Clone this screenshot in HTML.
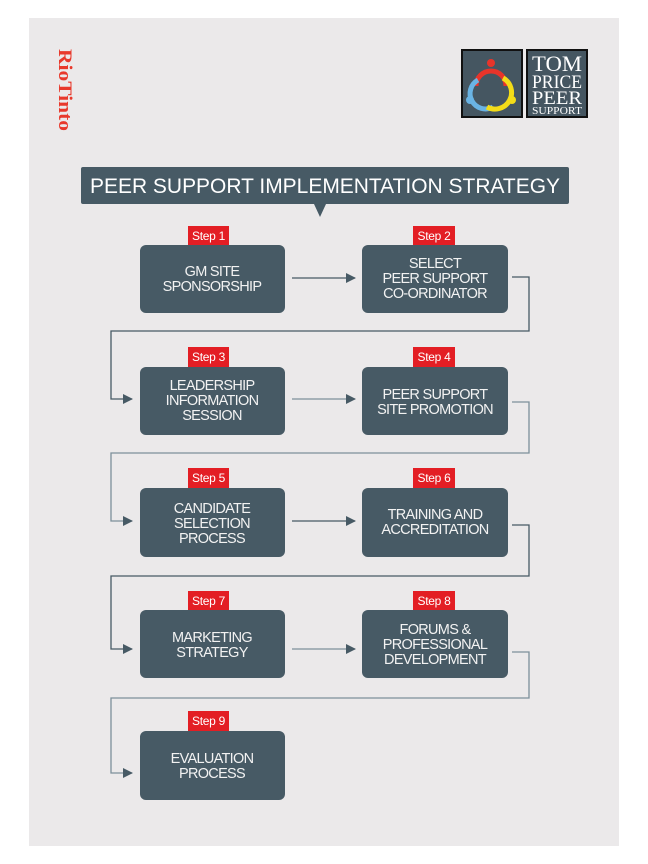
<!DOCTYPE html>
<html><head><meta charset="utf-8"><style>
html,body{margin:0;padding:0;background:#fff;}
svg{display:block;}
</style></head><body>
<svg width="648" height="864" viewBox="0 0 648 864" xmlns="http://www.w3.org/2000/svg">
<defs>
<marker id="ah" markerWidth="12" markerHeight="12" refX="9" refY="5" orient="auto" markerUnits="userSpaceOnUse">
<path d="M0,0 L10,5 L0,10 z" fill="#475a65"/>
</marker>
</defs>
<rect x="29" y="18" width="590" height="828" fill="#ebe9ea"/>
<text transform="translate(59,49) rotate(90)" font-family="Liberation Serif, serif" font-weight="bold" font-size="19" fill="#e8392c" textLength="82" lengthAdjust="spacingAndGlyphs">RioTinto</text>
<!-- logo -->
<rect x="462" y="50" width="60" height="67" fill="#455661" stroke="#111" stroke-width="2"/>
<circle cx="491" cy="63" r="4" fill="#e8342a"/>
<path d="M476,86 A15,15 0 0 1 506,86" fill="none" stroke="#e8342a" stroke-width="5"/>
<path d="M478,80 A15,15 0 0 0 493,107" fill="none" stroke="#6ab4e4" stroke-width="5"/>
<path d="M503,78 A15,15 0 0 1 487,107" fill="none" stroke="#f3dc18" stroke-width="5"/>
<circle cx="470" cy="100" r="4" fill="#6ab4e4"/>
<circle cx="512" cy="100" r="4" fill="#f3dc18"/>
<rect x="527" y="50" width="60" height="67" fill="#455661" stroke="#111" stroke-width="2"/>
<g font-family="Liberation Serif, serif" fill="#fff" text-anchor="middle">
<text x="557" y="71" font-size="22" textLength="50" lengthAdjust="spacingAndGlyphs">TOM</text>
<text x="557" y="88" font-size="19" textLength="50" lengthAdjust="spacingAndGlyphs">PRICE</text>
<text x="557" y="104" font-size="19" textLength="50" lengthAdjust="spacingAndGlyphs">PEER</text>
<text x="557" y="114" font-size="10" textLength="50" lengthAdjust="spacingAndGlyphs">SUPPORT</text>
</g>
<!-- title -->
<rect x="81" y="167" width="488" height="37" rx="2" fill="#475a65"/>
<path d="M314,204 L326,204 L320,217 z" fill="#475a65"/>
<text x="325" y="193" font-family="Liberation Sans, sans-serif" font-size="21" fill="#fff" text-anchor="middle" textLength="470" lengthAdjust="spacingAndGlyphs">PEER SUPPORT IMPLEMENTATION STRATEGY</text>
<!-- connectors -->
<g stroke="#475a65" stroke-width="1.3" fill="none">
<line x1="292" y1="278" x2="355" y2="278" marker-end="url(#ah)"/>
<line x1="292" y1="399" x2="355" y2="399" marker-end="url(#ah)" stroke="#7c909b"/>
<line x1="292" y1="521" x2="355" y2="521" marker-end="url(#ah)"/>
<line x1="292" y1="649" x2="355" y2="649" marker-end="url(#ah)" stroke="#7c909b"/>
<polyline points="512,277 529,277 529,331 111,331 111,399 132,399" marker-end="url(#ah)"/>
<polyline points="512,402 529,402 529,453 111,453 111,521 132,521" marker-end="url(#ah)" stroke="#7c909b"/>
<polyline points="512,525 529,525 529,576 111,576 111,649 132,649" marker-end="url(#ah)"/>
<polyline points="512,652 529,652 529,698 111,698 111,773 132,773" marker-end="url(#ah)" stroke="#7c909b"/>
</g>
<g font-family="Liberation Sans, sans-serif">
<g fill="#475a65">
<rect x="140" y="245" width="145" height="68" rx="6"/>
<rect x="362" y="245" width="146" height="68" rx="6"/>
<rect x="140" y="367" width="145" height="68" rx="6"/>
<rect x="362" y="367" width="146" height="68" rx="6"/>
<rect x="140" y="488" width="145" height="69" rx="6"/>
<rect x="362" y="488" width="146" height="69" rx="6"/>
<rect x="140" y="610" width="145" height="68" rx="6"/>
<rect x="362" y="610" width="146" height="68" rx="6"/>
<rect x="140" y="731" width="145" height="69" rx="6"/>
</g>
<g fill="#e31e24">
<rect x="188" y="226" width="41" height="19"/>
<rect x="413" y="226" width="42" height="19"/>
<rect x="188" y="347" width="41" height="20"/>
<rect x="413" y="347" width="42" height="20"/>
<rect x="188" y="468" width="41" height="20"/>
<rect x="413" y="468" width="42" height="20"/>
<rect x="188" y="591" width="41" height="19"/>
<rect x="413" y="591" width="42" height="19"/>
<rect x="188" y="711" width="41" height="20"/>
</g>
<g fill="#fff" font-size="12" text-anchor="middle" letter-spacing="-0.3">
<text x="208.5" y="240">Step 1</text>
<text x="434" y="240">Step 2</text>
<text x="208.5" y="361">Step 3</text>
<text x="434" y="361">Step 4</text>
<text x="208.5" y="482">Step 5</text>
<text x="434" y="482">Step 6</text>
<text x="208.5" y="605">Step 7</text>
<text x="434" y="605">Step 8</text>
<text x="208.5" y="725">Step 9</text>
</g>
<g fill="#f2f2f2" font-size="14.5" text-anchor="middle" letter-spacing="-0.7">
<text x="212" y="276">GM SITE</text>
<text x="212" y="291">SPONSORSHIP</text>
<text x="435" y="268">SELECT</text>
<text x="435" y="283">PEER SUPPORT</text>
<text x="435" y="298">CO-ORDINATOR</text>
<text x="212" y="390">LEADERSHIP</text>
<text x="212" y="405">INFORMATION</text>
<text x="212" y="420">SESSION</text>
<text x="435" y="399">PEER SUPPORT</text>
<text x="435" y="414">SITE PROMOTION</text>
<text x="212" y="513">CANDIDATE</text>
<text x="212" y="528">SELECTION</text>
<text x="212" y="543">PROCESS</text>
<text x="435" y="519">TRAINING AND</text>
<text x="435" y="534">ACCREDITATION</text>
<text x="212" y="642">MARKETING</text>
<text x="212" y="657">STRATEGY</text>
<text x="435" y="634">FORUMS &amp;</text>
<text x="435" y="649">PROFESSIONAL</text>
<text x="435" y="664">DEVELOPMENT</text>
<text x="212" y="763">EVALUATION</text>
<text x="212" y="778">PROCESS</text>
</g>
</g>
</svg>
</body></html>
